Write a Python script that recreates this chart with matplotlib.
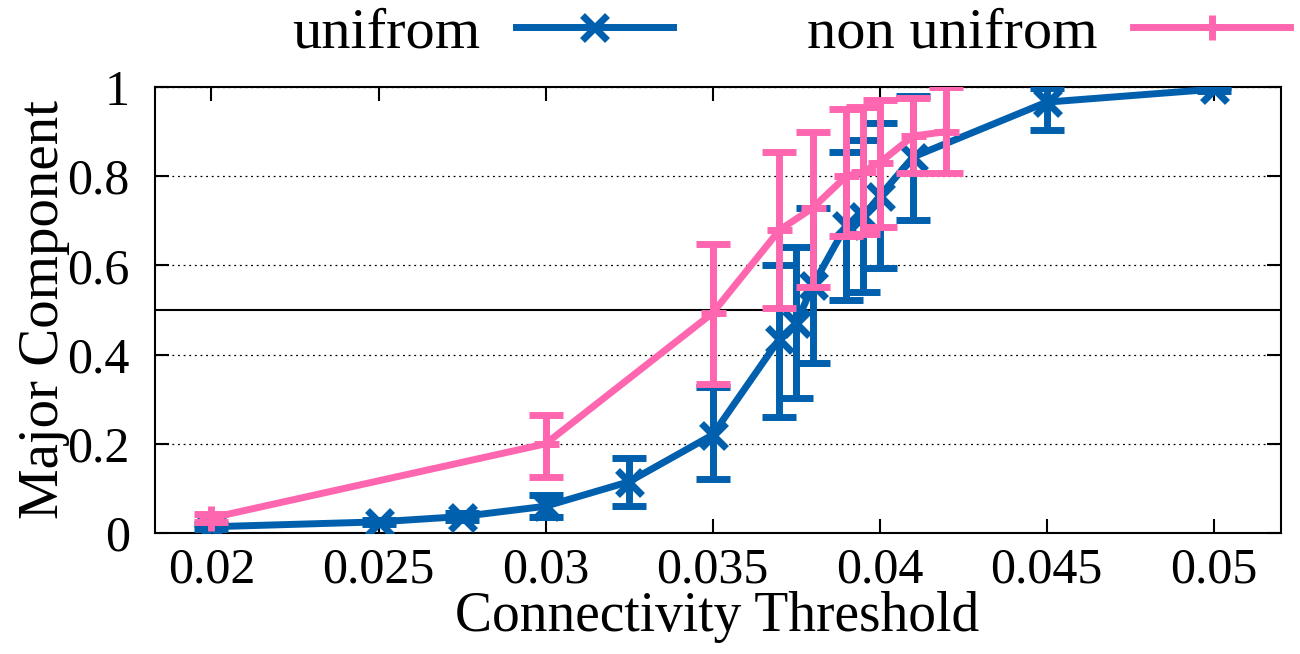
import numpy as np
import matplotlib
matplotlib.use('Agg')
import matplotlib.pyplot as plt
from matplotlib.lines import Line2D
from matplotlib.ticker import FuncFormatter

# uniform placement
uni_x = [0.02, 0.025, 0.0275, 0.03, 0.0325, 0.035, 0.037, 0.0375, 0.038, 0.039, 0.0395, 0.04, 0.041, 0.045, 0.05]
uni_y = [0.014, 0.025, 0.037, 0.060, 0.115, 0.22, 0.435, 0.47, 0.555, 0.69, 0.71, 0.755, 0.843, 0.966, 0.995]
uni_lo = [0.008, 0.020, 0.030, 0.036, 0.060, 0.12, 0.26, 0.302, 0.381, 0.522, 0.54, 0.594, 0.702, 0.904, 0.990]
uni_hi = [0.020, 0.030, 0.044, 0.085, 0.168, 0.327, 0.60, 0.641, 0.729, 0.854, 0.881, 0.919, 0.98, 0.998, 1.0]

# non uniform placement
non_x = [0.02, 0.03, 0.035, 0.037, 0.038, 0.039, 0.0395, 0.04, 0.041, 0.042]
non_y = [0.034, 0.20, 0.493, 0.679, 0.729, 0.80, 0.81, 0.83, 0.89, 0.90]
non_lo = [0.025, 0.126, 0.334, 0.504, 0.552, 0.666, 0.67, 0.686, 0.807, 0.807]
non_hi = [0.043, 0.265, 0.648, 0.854, 0.899, 0.951, 0.955, 0.971, 0.975, 1.0]

blue = '#0060ad'
pink = '#ff66b0'
lw = 5

plt.rcParams['font.family'] = 'Liberation Serif'
plt.rcParams['font.size'] = 36

fig = plt.figure(figsize=(13, 6.54), dpi=100)
ax = fig.add_axes([0.119, 0.185, 0.866, 0.682])

def err(y, lo, hi):
    y = np.array(y)
    return [y - np.array(lo), np.array(hi) - y]

ax.errorbar(uni_x, uni_y, yerr=err(uni_y, uni_lo, uni_hi), color=blue, lw=lw,
            marker='x', ms=18, mew=lw, capsize=12, capthick=lw, elinewidth=lw,
            zorder=3)
ax.errorbar(non_x, non_y, yerr=err(non_y, non_lo, non_hi), color=pink, lw=lw,
            marker='+', ms=18, mew=lw, capsize=12, capthick=lw, elinewidth=lw,
            zorder=4)

ax.axhline(0.5, color='black', lw=1.5, zorder=2)

ax.set_xlim(0.0183, 0.052)
ax.set_ylim(0, 1)
ax.set_xticks([0.02, 0.025, 0.03, 0.035, 0.04, 0.045, 0.05])
ax.set_yticks([0, 0.2, 0.4, 0.6, 0.8, 1.0])
ax.xaxis.set_major_formatter(FuncFormatter(lambda v, p: '%g' % round(v, 4)))
ax.yaxis.set_major_formatter(FuncFormatter(lambda v, p: '%g' % round(v, 2)))
ax.grid(axis='y', linestyle=(0, (1.5, 3)), color='black', lw=0.9)
ax.tick_params(direction='in', length=10, width=1.5, top=True, right=True, labelsize=36)
ax.tick_params(axis='x', pad=10)
ax.tick_params(axis='y', pad=18)
for s in ax.spines.values():
    s.set_linewidth(1.5)

ax.set_xlabel('Connectivity Threshold', fontsize=40, labelpad=-2)
ax.set_ylabel('Major Component', fontsize=41)
ax.yaxis.set_label_coords(-0.075, 0.5)

handles = [Line2D([], [], color=blue, lw=lw, marker='x', ms=18, mew=lw),
           Line2D([], [], color=pink, lw=lw, marker='+', ms=18, mew=lw)]
fig.legend(handles, ['unifrom', 'non unifrom'], loc='upper right',
           bbox_to_anchor=(1.033, 1.07), ncol=2, frameon=False,
           markerfirst=False, handlelength=2.7, columnspacing=2.3, handletextpad=0.6,
           fontsize=42)

fig.savefig('out.png', dpi=100)
